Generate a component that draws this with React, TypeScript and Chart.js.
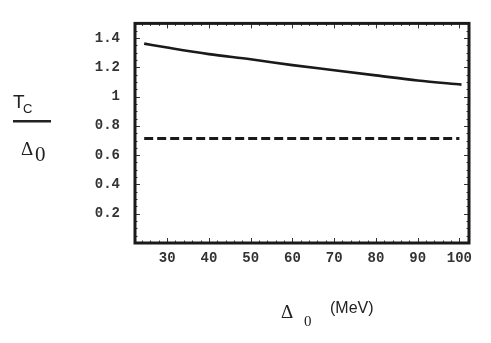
import { useEffect, useRef } from "react";
import { Chart, registerables } from "chart.js";

Chart.register(...registerables);

// Δ0 (MeV) values along the solid curve and the corresponding Tc/Δ0
const deltaValues = [24.5, 30, 40, 50, 60, 70, 80, 90, 100.5];
const ratioValues = [1.362, 1.335, 1.29, 1.255, 1.215, 1.18, 1.145, 1.11, 1.082];
// dashed reference line
const refDelta = [24.5, 100];
const refRatio = [0.713, 0.713];

const xTickValues = [30, 40, 50, 60, 70, 80, 90, 100];
const xTickLabels = ["30", "40", "50", "60", "70", "80", "90", "100"];
const yTickValues = [0.2, 0.4, 0.6, 0.8, 1, 1.2, 1.4];
const yTickLabels = ["0.2", "0.4", "0.6", "0.8", "1", "1.2", "1.4"];

const X_MIN = 22.3;
const X_MAX = 102.3;
const Y_MIN = 0;
const Y_MAX = 1.5;

const framePlugin = {
  id: "framePlugin",
  afterDatasetsDraw(chart: any) {
    const { ctx, chartArea: a, scales } = chart;
    const xs = scales.x;
    const ys = scales.y;
    ctx.save();
    ctx.strokeStyle = "#333";
    ctx.lineWidth = 1;
    const seg = (x1: number, y1: number, x2: number, y2: number) => {
      ctx.beginPath();
      ctx.moveTo(x1, y1);
      ctx.lineTo(x2, y2);
      ctx.stroke();
    };
    // x ticks (minor every 2, major every 10)
    for (let i = 12; i <= 51; i++) {
      const v = i * 2;
      if (v < X_MIN || v > X_MAX) continue;
      const px = Math.round(xs.getPixelForValue(v)) + 0.5;
      const len = v % 10 === 0 ? 5 : 2.5;
      seg(px, a.bottom, px, a.bottom - len);
      seg(px, a.top, px, a.top + len);
    }
    // y ticks (minor every 0.05, major every 0.2)
    for (let i = 0; i <= 30; i++) {
      const v = i * 0.05;
      const py = Math.round(ys.getPixelForValue(v)) + 0.5;
      const len = i % 4 === 0 ? 5 : 2.5;
      seg(a.left, py, a.left + len, py);
      seg(a.right, py, a.right - len, py);
    }
    ctx.lineWidth = 3;
    ctx.strokeStyle = "#1a1a1a";
    ctx.strokeRect(a.left, a.top, a.right - a.left, a.bottom - a.top);
    ctx.restore();
  },
  afterDraw(chart: any) {
    const { ctx } = chart;
    ctx.save();
    ctx.fillStyle = "#222";
    ctx.textBaseline = "alphabetic";
    ctx.textAlign = "left";
    // y-axis title: Tc / Δ0
    ctx.font = "19px 'Liberation Sans', Arial, sans-serif";
    ctx.fillText("T", 13, 108);
    ctx.font = "13px 'Liberation Sans', Arial, sans-serif";
    ctx.fillText("C", 23, 113);
    ctx.fillRect(13, 120, 38, 2.5);
    ctx.font = "19px 'Liberation Serif', 'Times New Roman', serif";
    ctx.fillText("Δ", 21, 155);
    ctx.font = "21px 'Liberation Serif', 'Times New Roman', serif";
    ctx.fillText("0", 35, 161);
    // x-axis title: Δ 0 (MeV)
    ctx.font = "19px 'Liberation Serif', 'Times New Roman', serif";
    ctx.fillText("Δ", 281, 318);
    ctx.font = "15px 'Liberation Serif', 'Times New Roman', serif";
    ctx.fillText("0", 304, 326);
    ctx.font = "16px 'Liberation Sans', Arial, sans-serif";
    ctx.fillText("(MeV)", 330, 313);
    ctx.restore();
  },
};

export default function App() {
  const canvasRef = useRef<HTMLCanvasElement | null>(null);

  useEffect(() => {
    const canvas = canvasRef.current;
    if (!canvas) return;
    const tickFont = { family: "'Liberation Mono', 'Courier New', monospace", size: 14, weight: "bold" as const };
    const chart = new Chart(canvas, {
      type: "line",
      data: {
        datasets: [
          {
            data: deltaValues.map((x, i) => ({ x, y: ratioValues[i] })),
            borderColor: "#1a1a1a",
            borderWidth: 2.6,
            pointRadius: 0,
            fill: false,
            cubicInterpolationMode: "monotone",
          },
          {
            data: refDelta.map((x, i) => ({ x, y: refRatio[i] })),
            borderColor: "#1a1a1a",
            borderWidth: 3,
            borderDash: [9, 4],
            pointRadius: 0,
            fill: false,
          },
        ],
      },
      options: {
        responsive: false,
        animation: false,
        layout: { padding: { left: 0, right: 22, top: 15, bottom: 0 } },
        plugins: { legend: { display: false }, tooltip: { enabled: false } },
        scales: {
          x: {
            type: "linear",
            min: X_MIN,
            max: X_MAX,
            grid: { display: false, drawTicks: false },
            border: { display: false },
            afterBuildTicks: (s: any) => {
              s.ticks = xTickValues.map((v) => ({ value: v }));
            },
            afterFit: (s: any) => {
              s.height = 100;
            },
            ticks: {
              padding: 7,
              color: "#333",
              font: tickFont,
              maxRotation: 0,
              autoSkip: false,
              callback: (v: any) => {
                const i = xTickValues.indexOf(Number(v));
                return i >= 0 ? xTickLabels[i] : "";
              },
            },
          },
          y: {
            type: "linear",
            min: Y_MIN,
            max: Y_MAX,
            grid: { display: false, drawTicks: false },
            border: { display: false },
            afterBuildTicks: (s: any) => {
              s.ticks = yTickValues.map((v) => ({ value: v }));
            },
            afterFit: (s: any) => {
              s.width = 135;
            },
            ticks: {
              padding: 15,
              color: "#333",
              font: tickFont,
              autoSkip: false,
              callback: (v: any) => {
                const i = yTickValues.findIndex((t) => Math.abs(t - Number(v)) < 1e-6);
                return i >= 0 ? yTickLabels[i] : "";
              },
            },
          },
        },
      },
      plugins: [framePlugin],
    } as any);
    return () => chart.destroy();
  }, []);

  return (
    <div style={{ position: "absolute", left: 0, top: 0, width: 491, height: 343, background: "#fff" }}>
      <canvas ref={canvasRef} width={491} height={343} style={{ display: "block", width: 491, height: 343 }} />
    </div>
  );
}
